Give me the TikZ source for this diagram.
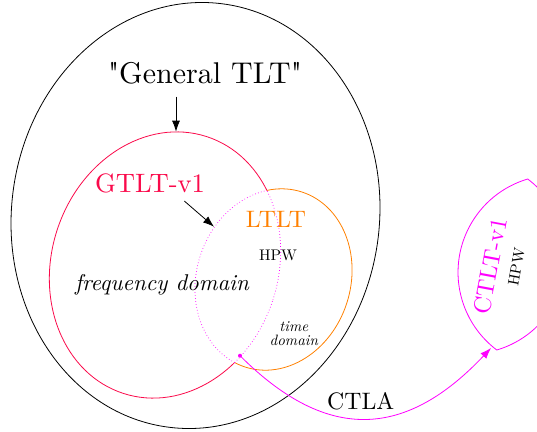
\documentclass[tikz,border=0pt]{standalone}
\usepackage{fontspec}
\newfontfamily\lmten{lmroman10-regular}[Extension=.otf, ItalicFont=lmroman10-italic]
\usetikzlibrary{arrows.meta}
\definecolor{gred}{RGB}{250,10,75}
\definecolor{lorange}{RGB}{255,128,0}
\definecolor{cmag}{RGB}{255,0,255}
\newcommand{\lmsz}[1]{\lmten\fontsize{#1}{#1}\selectfont}
\tikzset{
  lw/.style={line width=0.8pt},
  arr/.style={-{Latex[length=11pt,width=8pt]}, line width=0.8pt},
  lensdot/.style={cmag, line width=0.7pt, dash pattern=on 0.7pt off 2.3pt},
  lbl/.style={inner sep=0pt, anchor=base},
  redell/.style={rotate around={-18:(165,-265)}},
  orell/.style={rotate around={-18:(273.5,-279.5)}},
}
\begin{document}
\begin{tikzpicture}[x=1pt,y=1pt]
\path[use as bounding box] (0,0) rectangle (537,-431);
\clip (0,0) rectangle (537,-431);
% outer ellipse
\draw[lw, rotate around={-7:(195.5,-215.5)}] (195.5,-215.5) ellipse [x radius=184, y radius=213.4];
% red solid outside orange
\begin{scope}
  \clip[orell] (-400,400) -- (1000,400) -- (1000,-1000) -- (-400,-1000) -- cycle
        (273.5,-279.5) ellipse [x radius=77, y radius=92];
  \draw[gred, lw, redell] (165,-265) ellipse [x radius=113.4, y radius=135];
\end{scope}
% orange solid outside red
\begin{scope}
  \clip[redell] (-400,400) -- (1000,400) -- (1000,-1000) -- (-400,-1000) -- cycle
        (165,-265) ellipse [x radius=113.4, y radius=135];
  \draw[lorange, lw, orell] (273.5,-279.5) ellipse [x radius=77, y radius=92];
\end{scope}
% dotted lens
\begin{scope}
  \clip[orell] (273.5,-279.5) ellipse [x radius=77, y radius=92];
  \draw[lensdot, redell] (165,-265) ellipse [x radius=113.4, y radius=135];
\end{scope}
\begin{scope}
  \clip[redell] (165,-265) ellipse [x radius=113.4, y radius=135];
  \draw[lensdot, orell] (273.5,-279.5) ellipse [x radius=77, y radius=92];
\end{scope}
% CTLT-v1 lens
\coordinate (V1) at (527.7,-179);
\coordinate (V2) at (496.7,-350);
\draw[cmag, lw] (V1) arc[start angle=106.5, end angle=233, radius=97.3]
                arc[start angle=-73.5, end angle=53, radius=97.3] -- cycle;
% labels
\node[lbl, font=\lmsz{30}] (gen) at (205,-83.3) {"General TLT"};
\node[lbl, gred, font=\lmsz{26.6}] (gtlt) at (150,-192.7) {GTLT-v1};
\node[lbl, lorange, font=\lmsz{23.8}] (ltlt) at (276,-227.7) {LTLT};
\node[lbl, font=\lmsz{15.4}] (hpw) at (278,-260.7) {HPW};
\node[lbl, font=\lmsz{22.8}\itshape] (freq) at (162,-290) {frequency domain};
\node[lbl, font=\lmsz{15}\itshape] (timeA) at (293.8,-331.7) {time};
\node[lbl, font=\lmsz{15}\itshape] (timeB) at (293.8,-345) {domain};
\node[lbl, font=\lmsz{23.8}] (ctla) at (360.7,-409) {CTLA};
\node[inner sep=0pt, cmag, rotate=79.5, font=\lmsz{24}] (ctlt) at (490.5,-266) {CTLT-v1};
\node[inner sep=0pt, rotate=79.5, font=\lmsz{15.4}] (hpw2) at (516.5,-267) {HPW};
% arrows
\coordinate (a1s) at (176,-96.7);
\coordinate (redtop) at (176,-131.7);
\draw[arr] (a1s) -- (redtop);
\coordinate (a2s) at (184.3,-201);
\coordinate (a2e) at (214,-226.7);
\draw[arr] (a2s) -- (a2e);
\node[circle, fill=cmag, inner sep=0pt, minimum size=4pt] (dot) at (240,-355.7) {};
\coordinate (ctend) at (491,-348);
\draw[arr, cmag] (dot.center) .. controls (327.9,-443.6) and (406.2,-437.9) .. (ctend);
\end{tikzpicture}
\end{document}
